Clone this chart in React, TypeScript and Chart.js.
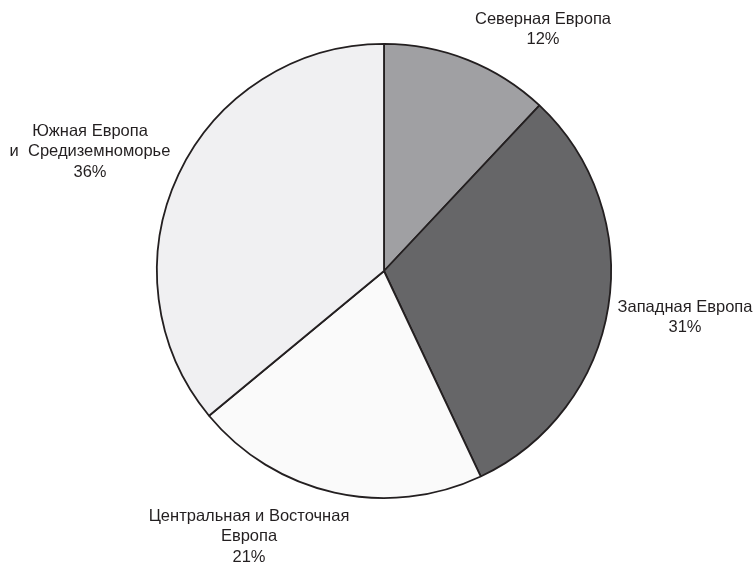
import React, { useEffect, useRef } from "react";
import { Chart, registerables } from "chart.js";

Chart.register(...registerables);

const categories: string[][] = [
  ["Северная Европа"],
  ["Западная Европа"],
  ["Центральная и Восточная", "Европа"],
  ["Южная Европа", "и  Средиземноморье"],
];
const shares: number[] = [12, 31, 21, 36];
const sliceColors: string[] = ["#a0a0a3", "#666668", "#fafafa", "#f0f0f2"];
// label anchor (center x, first line center y)
const labelAnchors: [number, number][] = [
  [543, 19],
  [685, 307],
  [249, 516],
  [90, 131],
];

const labelPlugin = {
  id: "pieLabels",
  afterDraw(chart: any) {
    const ctx = chart.ctx;
    ctx.save();
    ctx.font = '16.5px "Liberation Sans", Arial, sans-serif';
    ctx.fillStyle = "#231f20";
    ctx.textAlign = "center";
    ctx.textBaseline = "middle";
    const lh = 20.5;
    categories.forEach((lines, i) => {
      const [x, y] = labelAnchors[i];
      const all = [...lines, shares[i] + "%"];
      all.forEach((t, j) => ctx.fillText(t, x, y + j * lh));
    });
    ctx.restore();
  },
};

export default function App() {
  const ref = useRef<HTMLCanvasElement>(null);
  useEffect(() => {
    if (!ref.current) return;
    const chart = new Chart(ref.current, {
      type: "pie",
      data: {
        labels: categories.map((c) => c.join(" ")),
        datasets: [
          {
            data: shares,
            backgroundColor: sliceColors,
            borderColor: "#231f20",
            borderWidth: 1.8,
          },
        ],
      },
      options: {
        animation: false,
        responsive: false,
        layout: { padding: { left: 156, right: 144, top: 43, bottom: 65 } },
        plugins: { legend: { display: false }, tooltip: { enabled: false } },
      },
      plugins: [labelPlugin],
    });
    return () => chart.destroy();
  }, []);
  return (
    <div style={{ position: "absolute", left: 0, top: 0, width: 756, height: 564, background: "#fff" }}>
      <canvas ref={ref} width={756} height={564} />
    </div>
  );
}
